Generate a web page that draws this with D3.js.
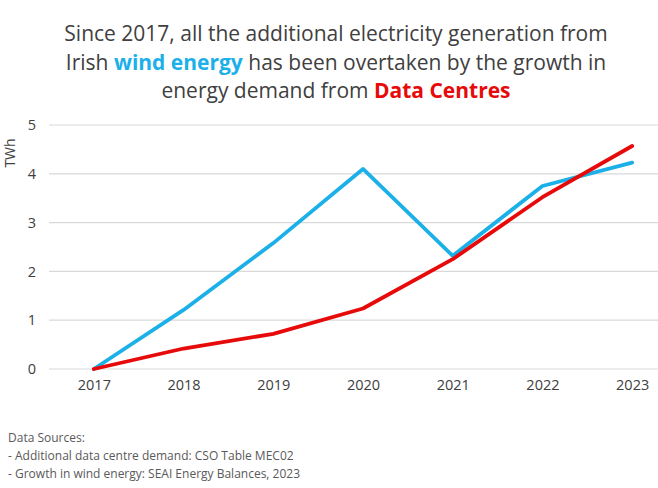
<!DOCTYPE html>
<html>
<head>
<meta charset="utf-8">
<script src="https://cdn.jsdelivr.net/npm/d3@7"></script>
<style>
  body { margin: 0; background: #fff; }
  svg { display: block; }
</style>
</head>
<body>
<script>
// data (TWh, change since 2017)
var years = ['2017', '2018', '2019', '2020', '2021', '2022', '2023'];
var windGrowth = [0, 1.21, 2.58, 4.10, 2.32, 3.75, 4.23];
var dataCentres = [0, 0.42, 0.72, 1.24, 2.25, 3.52, 4.57];
var yTicks = [0, 1, 2, 3, 4, 5];
var sources = ['Data Sources:',
  '- Additional data centre demand: CSO Table MEC02',
  '- Growth in wind energy: SEAI Energy Balances, 2023'];

var W = 658, H = 488;
var blue = '#1cb0e8', red = '#e60a0a', grey = '#404040';
var font = 'Open Sans';

var svg = d3.select('body').append('svg')
  .attr('width', W)
  .attr('height', H);

// plot area (names avoid window.top)
var plotLeft = 49, plotRight = 677, plotTop = 125, plotBottom = 369;

var x = d3.scalePoint().domain(years).range([plotLeft, plotRight]).padding(0.5);
var y = d3.scaleLinear().domain([0, 5]).range([plotBottom, plotTop]);

// gridlines
svg.selectAll('.grid').data(yTicks).enter().append('line')
  .attr('x1', plotLeft)
  .attr('x2', W)
  .attr('y1', function(d){return y(d);})
  .attr('y2', function(d){return y(d);})
  .attr('stroke', '#d9d9d9')
  .attr('stroke-width', 1.2);

var yAxis = svg.append('g')
  .attr('transform', 'translate(' + (plotLeft - 13) + ',0)')
  .call(d3.axisLeft(y).tickValues(yTicks).tickFormat(d3.format('d')).tickSize(0).tickPadding(0));
yAxis.select('.domain').remove();
yAxis.selectAll('text')
  .attr('font-family', font)
  .attr('font-size', 14.5)
  .attr('fill', grey);

var xAxis = svg.append('g')
  .attr('transform', 'translate(0,' + plotBottom + ')')
  .call(d3.axisBottom(x).tickSize(0).tickPadding(11));
xAxis.select('.domain').remove();
xAxis.selectAll('text')
  .attr('font-family', font)
  .attr('font-size', 14.5)
  .attr('fill', grey);

svg.append('text')
  .text('TWh')
  .attr('transform', 'translate(15,153) rotate(-90)')
  .attr('text-anchor', 'middle')
  .attr('font-family', font)
  .attr('font-size', 14)
  .attr('fill', grey);

// lines
var line = d3.line()
  .x(function(d, i){return x(years[i]);})
  .y(function(d){return y(d);});

svg.append('path')
  .datum(windGrowth)
  .attr('d', line)
  .attr('fill', 'none')
  .attr('stroke', blue)
  .attr('stroke-width', 3.8)
  .attr('stroke-linecap', 'round')
  .attr('stroke-linejoin', 'round');

svg.append('path')
  .datum(dataCentres)
  .attr('d', line)
  .attr('fill', 'none')
  .attr('stroke', red)
  .attr('stroke-width', 3.8)
  .attr('stroke-linecap', 'round')
  .attr('stroke-linejoin', 'round');

// title
var title = svg.append('text')
  .attr('text-anchor', 'middle')
  .attr('font-family', font)
  .attr('font-size', 21)
  .attr('fill', grey);

title.append('tspan').attr('x', W / 2 + 7).attr('y', 41)
  .text('Since 2017, all the additional electricity generation from');

var t2 = title.append('tspan').attr('x', W / 2 + 7).attr('y', 70);
t2.append('tspan').text('Irish ');
t2.append('tspan').text('wind energy').attr('fill', blue).attr('font-weight', 'bold');
t2.append('tspan').text(' has been overtaken by the growth in');

var t3 = title.append('tspan').attr('x', W / 2 + 7).attr('y', 98);
t3.append('tspan').text('energy demand from ');
t3.append('tspan').text('Data Centres').attr('fill', red).attr('font-weight', 'bold');

// sources
svg.selectAll('.src').data(sources).enter().append('text')
  .text(function(d){return d;})
  .attr('x', 8)
  .attr('y', function(d, i){return 442 + i * 18;})
  .attr('font-family', font)
  .attr('font-size', 12)
  .attr('fill', '#595959');
</script>
</body>
</html>
